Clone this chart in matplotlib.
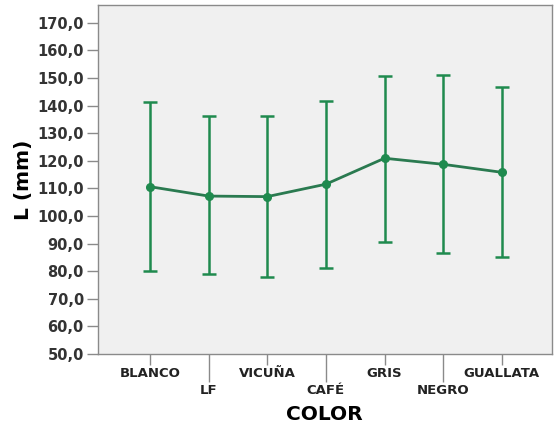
import numpy as np
import matplotlib.pyplot as plt

# medias e intervalos por color
colores = ["BLANCO", "LF", "VICUÑA", "CAFÉ", "GRIS", "NEGRO", "GUALLATA"]
media = [110.6, 107.2, 107.0, 111.5, 120.9, 118.7, 115.8]
inferior = [80.2, 78.9, 78.0, 81.3, 90.5, 86.5, 85.3]
superior = [141.1, 136.2, 136.2, 141.7, 150.7, 151.1, 146.6]
y_ticks = np.arange(50, 171, 10)

verde = "#1f8a4e"
gris = "#8a8a8a"

x = np.arange(len(colores))
media = np.array(media)
err = [media - np.array(inferior), np.array(superior) - media]

fig = plt.figure(figsize=(5.54, 4.30), dpi=100)
ax = fig.add_axes([0.1764, 0.1767, 0.9958 - 0.1764, 0.9884 - 0.1767])
ax.set_facecolor("#f0f0f0")

ax.errorbar(x, media, yerr=err, fmt="none", ecolor=verde, elinewidth=1.8,
            capsize=5.2, capthick=1.8, zorder=2)
ax.plot(x, media, color="#2a7a50", lw=2, marker="o", ms=5.5,
        mfc=verde, mec=verde, zorder=3)

ax.set_xlim(-0.89, 6.85)
ax.set_ylim(50, 176.4)

# eje Y
ax.set_yticks(y_ticks)
ax.set_yticklabels([f"{v:.1f}".replace(".", ",") for v in y_ticks],
                   fontsize=10.5, fontweight="bold", color="#333333")
ax.tick_params(axis="y", length=8, width=1, color=gris, pad=2)
ax.set_ylabel("L (mm)", fontsize=14.5, fontweight="bold", labelpad=3)

# eje X con etiquetas escalonadas
ax.set_xticks(x[0::2])
ax.set_xticklabels(colores[0::2], fontsize=9.5, fontweight="bold", color="#222222")
ax.set_xticks(x[1::2], minor=True)
ax.set_xticklabels(colores[1::2], minor=True, fontsize=9.5, fontweight="bold", color="#222222")
ax.tick_params(axis="x", which="major", length=8, width=1, color=gris, pad=1.5)
ax.tick_params(axis="x", which="minor", length=20, width=1, color=gris, pad=1.5)
ax.set_xlabel("COLOR", fontsize=14.5, fontweight="bold", labelpad=6)

for s in ax.spines.values():
    s.set_color(gris)
    s.set_linewidth(1)

fig.savefig("out.png", dpi=100, facecolor="white")
